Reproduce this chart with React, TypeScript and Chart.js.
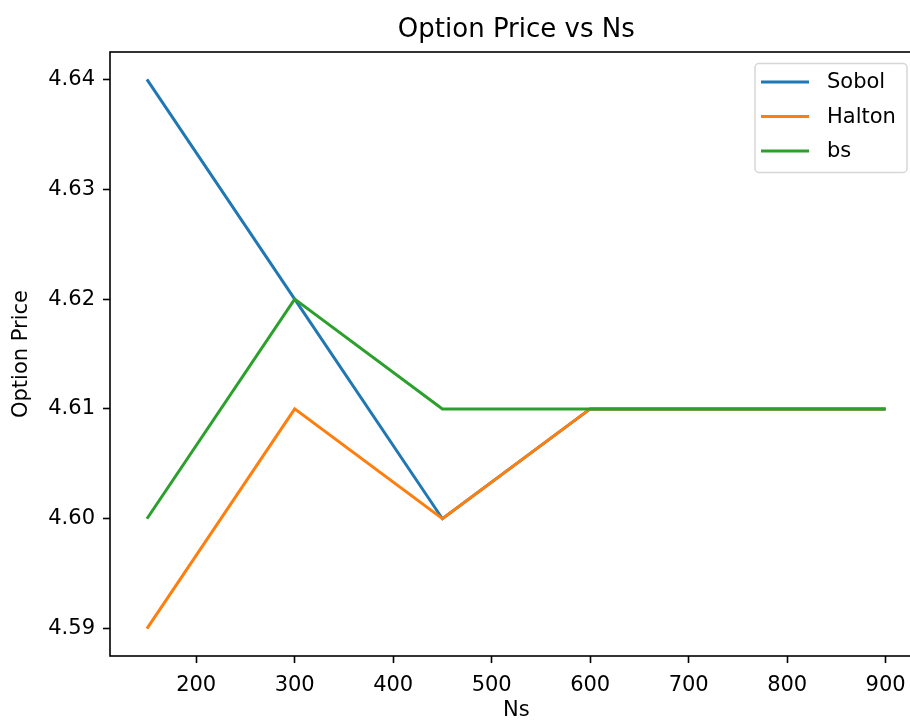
import { useEffect, useRef } from "react";
import { Chart, registerables } from "chart.js";

Chart.register(...registerables);

// Sample counts and the option prices each method produced
const ns = [150, 300, 450, 600, 750, 900];
const sobol = [4.64, 4.62, 4.6, 4.61, 4.61, 4.61];
const halton = [4.59, 4.61, 4.6, 4.61, 4.61, 4.61];
const bs = [4.6, 4.62, 4.61, 4.61, 4.61, 4.61];

const seriesNames = ["Sobol", "Halton", "bs"];
const seriesColors = ["#1f77b4", "#ff7f0e", "#2ca02c"];

const xTicks = [200, 300, 400, 500, 600, 700, 800, 900];
const yTicks = [4.59, 4.6, 4.61, 4.62, 4.63, 4.64];

const titleText = "Option Price vs Ns";
const xLabel = "Ns";
const yLabel = "Option Price";

const FONT = '"DejaVu Sans", sans-serif';

// 5% margins around the data, as matplotlib does
const xMin = 112.5;
const xMax = 937.5;
const yMin = 4.5875;
const yMax = 4.6425;

const framePlugin = {
  id: "frame",
  afterDatasetsDraw(chart: any) {
    const { ctx, chartArea } = chart;
    ctx.save();
    ctx.strokeStyle = "#000";
    ctx.lineWidth = 1.6;
    ctx.strokeRect(
      chartArea.left,
      chartArea.top,
      chartArea.right - chartArea.left,
      chartArea.bottom - chartArea.top
    );
    ctx.restore();
  },
};

const titlePlugin = {
  id: "plotTitle",
  afterDraw(chart: any) {
    const { ctx, chartArea } = chart;
    ctx.save();
    ctx.font = `26px ${FONT}`;
    ctx.fillStyle = "#000";
    ctx.textAlign = "center";
    ctx.textBaseline = "alphabetic";
    ctx.fillText(titleText, (chartArea.left + chartArea.right) / 2, 37);
    ctx.restore();
  },
};

const legendPlugin = {
  id: "boxLegend",
  afterDraw(chart: any) {
    const { ctx } = chart;
    const x = 755;
    const y = 63.5;
    const w = 152;
    const h = 109;
    const r = 4;
    ctx.save();
    ctx.beginPath();
    ctx.moveTo(x + r, y);
    ctx.lineTo(x + w - r, y);
    ctx.arcTo(x + w, y, x + w, y + r, r);
    ctx.lineTo(x + w, y + h - r);
    ctx.arcTo(x + w, y + h, x + w - r, y + h, r);
    ctx.lineTo(x + r, y + h);
    ctx.arcTo(x, y + h, x, y + h - r, r);
    ctx.lineTo(x, y + r);
    ctx.arcTo(x, y, x + r, y, r);
    ctx.closePath();
    ctx.fillStyle = "rgba(255,255,255,0.8)";
    ctx.fill();
    ctx.strokeStyle = "#d6d6d6";
    ctx.lineWidth = 1.5;
    ctx.stroke();

    ctx.font = `21px ${FONT}`;
    ctx.textAlign = "left";
    ctx.textBaseline = "middle";
    chart.data.datasets.forEach((ds: any, i: number) => {
      const ly = 82 + i * 34.5;
      ctx.beginPath();
      ctx.moveTo(761, ly);
      ctx.lineTo(809, ly);
      ctx.strokeStyle = ds.borderColor;
      ctx.lineWidth = 3;
      ctx.stroke();
      ctx.fillStyle = "#000";
      ctx.fillText(ds.label, 827, ly + 1);
    });
    ctx.restore();
  },
};

export default function App() {
  const canvasRef = useRef<HTMLCanvasElement | null>(null);

  useEffect(() => {
    const canvas = canvasRef.current;
    if (!canvas) return;
    const seriesValues = [sobol, halton, bs];
    const chart = new Chart(canvas, {
      type: "line",
      data: {
        datasets: seriesValues.map((vals, i) => ({
          label: seriesNames[i],
          data: ns.map((n, j) => ({ x: n, y: vals[j] })),
          borderColor: seriesColors[i],
          backgroundColor: seriesColors[i],
          borderWidth: 3,
          pointRadius: 0,
          pointHoverRadius: 0,
          tension: 0,
          fill: false,
          // later series are painted over earlier ones
          order: seriesValues.length - i,
        })),
      },
      options: {
        responsive: false,
        animation: false,
        devicePixelRatio: 1,
        events: [],
        layout: { padding: { left: 0, right: 17.4, top: 52, bottom: 0 } },
        plugins: {
          legend: { display: false },
          title: { display: false },
          tooltip: { enabled: false },
        },
        scales: {
          x: {
            type: "linear",
            min: xMin,
            max: xMax,
            afterBuildTicks: (scale: any) => {
              scale.ticks = xTicks.map((v) => ({ value: v }));
            },
            afterFit: (scale: any) => {
              scale.height = 65;
            },
            border: { display: false },
            grid: {
              drawOnChartArea: false,
              drawTicks: true,
              tickLength: 7,
              tickWidth: 1.6,
              tickColor: "#000",
            },
            ticks: {
              color: "#000",
              font: { family: FONT, size: 21 },
              padding: 10,
              maxRotation: 0,
              autoSkip: false,
              callback: (v: any) => String(v),
            },
            title: {
              display: true,
              text: xLabel,
              color: "#000",
              font: { family: FONT, size: 21, lineHeight: 1.0 },
              padding: { top: 0, bottom: 0 },
            },
          },
          y: {
            type: "linear",
            min: yMin,
            max: yMax,
            afterBuildTicks: (scale: any) => {
              scale.ticks = yTicks.map((v) => ({ value: v }));
            },
            afterFit: (scale: any) => {
              scale.width = 110;
            },
            border: { display: false },
            grid: {
              drawOnChartArea: false,
              drawTicks: true,
              tickLength: 7,
              tickWidth: 1.6,
              tickColor: "#000",
            },
            ticks: {
              color: "#000",
              font: { family: FONT, size: 21 },
              padding: 8,
              autoSkip: false,
              callback: (v: any) => Number(v).toFixed(2),
            },
            title: {
              display: true,
              text: yLabel,
              color: "#000",
              font: { family: FONT, size: 21, lineHeight: 1.2 },
              padding: { top: 8.5, bottom: 0 },
            },
          },
        },
      },
      plugins: [framePlugin, titlePlugin, legendPlugin],
    });
    return () => chart.destroy();
  }, []);

  return (
    <div
      style={{
        position: "absolute",
        left: 0,
        top: 0,
        width: 910,
        height: 721,
        overflow: "hidden",
        background: "#fff",
      }}
    >
      <canvas ref={canvasRef} width={940} height={721} style={{ display: "block" }} />
    </div>
  );
}
